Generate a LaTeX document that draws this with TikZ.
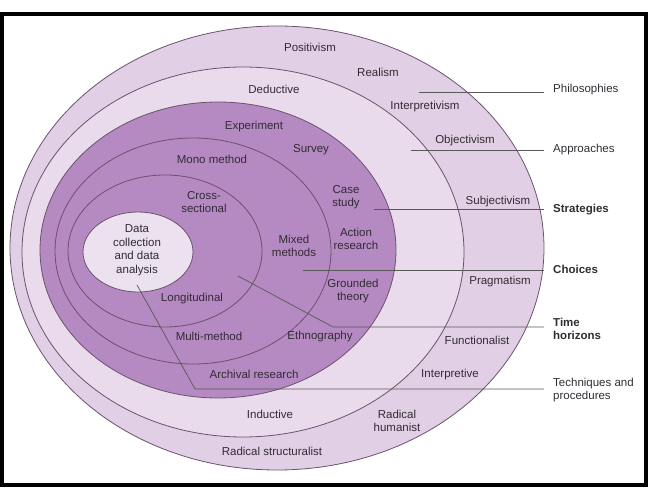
\documentclass[tikz,border=0pt]{standalone}
\usepackage{fontspec}
\setmainfont{Liberation Sans}
\usetikzlibrary{calc}
\definecolor{ringout}{RGB}{225,207,229}
\definecolor{ringmid}{RGB}{233,219,236}
\definecolor{ringdark}{RGB}{181,137,194}
\definecolor{ringcore}{RGB}{236,225,239}
\definecolor{ringline}{RGB}{108,82,110}
\definecolor{inktext}{RGB}{50,44,52}
\tikzset{
  layer/.style={draw=ringline, line width=0.8pt},
  lbl/.style={text=inktext, align=center, inner sep=1pt},
  tag/.style={text=inktext, align=left, anchor=west, inner sep=0pt},
  lead/.style={draw=black!65, line width=0.7pt},
}

\begin{document}
\begin{tikzpicture}[x=1pt, y=-1pt, font=\fontsize{11.5}{13.5}\selectfont]
  \useasboundingbox (0,0) rectangle (662,497);
  % onion layers
  \filldraw[layer, fill=ringout] (277,248) ellipse [x radius=267, y radius=222];
  \filldraw[layer, fill=ringmid] (243,252) ellipse [x radius=221, y radius=185];
  \filldraw[layer, fill=ringdark] (218,250) ellipse [x radius=178, y radius=148];
  \draw[layer] (193,251) ellipse [x radius=138, y radius=113];
  \draw[layer] (165,251) ellipse [x radius=97, y radius=76];
  \filldraw[layer, fill=ringcore] (138,252) ellipse [x radius=55, y radius=40];

  % texts in the layers
  \node[lbl] (positivism) at (310,47) {Positivism};
  \node[lbl] (realism) at (378,72) {Realism};
  \node[lbl] (deductive) at (274,89) {Deductive};
  \node[lbl] (interpretivism) at (425,107) {Interpretivism};
  \node[lbl] (objectivism) at (465,141) {Objectivism};
  \node[lbl] (experiment) at (254,127) {Experiment};
  \node[lbl] (survey) at (311,150) {Survey};
  \node[lbl] (mono) at (212,159) {Mono method};
  \node[lbl] (cross) at (204,202) {Cross-\\sectional};
  \node[lbl] (casestudy) at (346,197) {Case\\study};
  \node[lbl] (subjectivism) at (498,202) {Subjectivism};
  \node[lbl] (action) at (356,239) {Action\\research};
  \node[lbl] (datacoll) at (137,250) {Data\\collection\\and data\\analysis};
  \node[lbl] (mixed) at (294,246) {Mixed\\methods};
  \node[lbl] (grounded) at (353,291) {Grounded\\theory};
  \node[lbl] (pragmatism) at (500,282) {Pragmatism};
  \node[lbl] (longitudinal) at (192,299) {Longitudinal};
  \node[lbl] (multi) at (209,336) {Multi-method};
  \node[lbl] (ethno) at (320,337) {Ethnography};
  \node[lbl] (functionalist) at (477,340) {Functionalist};
  \node[lbl] (archival) at (254,374) {Archival research};
  \node[lbl] (interpretive) at (450,375) {Interpretive};
  \node[lbl] (inductive) at (270,414) {Inductive};
  \node[lbl] (humanist) at (397,421) {Radical\\humanist};
  \node[lbl] (structuralist) at (272,451) {Radical structuralist};

  % layer names on the right
  \node[tag] (philo) at (553,90) {Philosophies};
  \node[tag] (approach) at (553,150) {Approaches};
  \node[tag, font=\fontsize{11.5}{13.5}\selectfont\bfseries] (strategy) at (553,210) {Strategies};
  \node[tag, font=\fontsize{11.5}{13.5}\selectfont\bfseries] (choice) at (553,269) {Choices};
  \node[tag, font=\fontsize{11.5}{13.5}\selectfont\bfseries] (horizon) at (553,329) {Time\\horizons};
  \node[tag] (technique) at (553,390) {Techniques and\\procedures};

  % leader lines
  \coordinate (philoA) at (419,92);
  \coordinate (approachA) at (411,150);
  \coordinate (strategyA) at (374,209);
  \coordinate (choiceA) at (303,270);
  \coordinate (horizonA) at (238,276);
  \coordinate (horizonB) at (333,327);
  \coordinate (techniqueA) at (137,285);
  \coordinate (techniqueB) at (195,389);
  \coordinate (tagedge) at ($(philo.west)+(-9,0)$);
  \draw[lead] (philoA) -- (philoA -| tagedge);
  \draw[lead] (approachA) -- (approachA -| tagedge);
  \draw[lead] (strategyA) -- (strategyA -| tagedge);
  \draw[lead] (choiceA) -- (choiceA -| tagedge);
  \draw[lead] (horizonA) -- (horizonB) -- (horizonB -| tagedge);
  \draw[lead] (techniqueA) -- (techniqueB) -- (techniqueB -| tagedge);

  % frame
  \draw[line width=4pt] (2,14) rectangle (646,485);
\end{tikzpicture}
\end{document}
